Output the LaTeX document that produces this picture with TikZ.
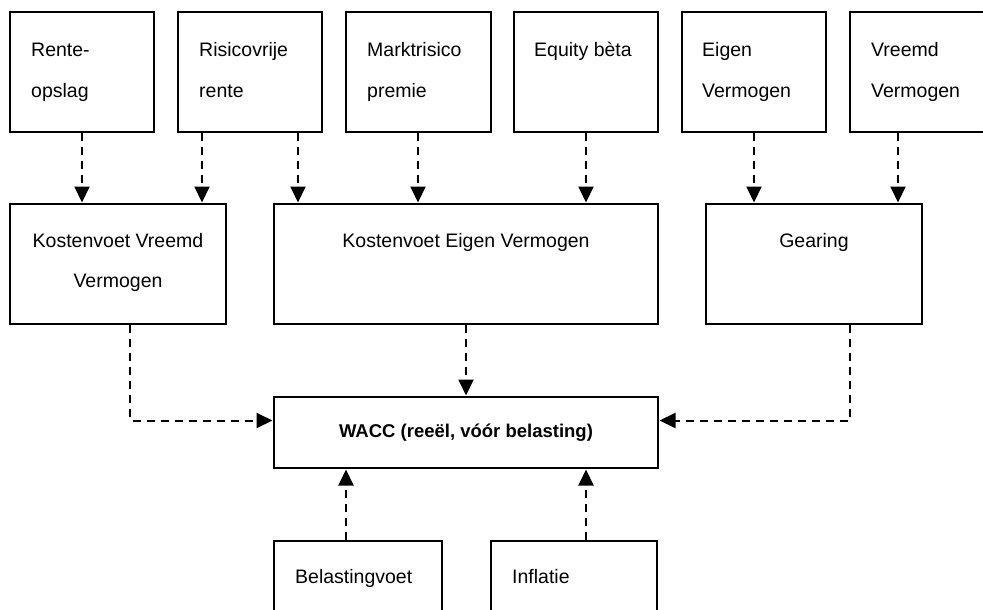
\documentclass[tikz,border=0pt]{standalone}
\usepackage{fontspec}
\setmainfont{Liberation Sans}
\usetikzlibrary{arrows.meta}
\begin{document}
\begin{tikzpicture}[x=1pt,y=-1pt,
  box/.style={draw, line width=2pt, inner sep=0pt, minimum height=120pt},
  lbl/.style={font=\fontsize{19.5}{40}\selectfont, inner sep=0pt, align=left, anchor=base west},
  clbl/.style={font=\fontsize{19.5}{40}\selectfont, inner sep=0pt, align=center, anchor=base},
  conn/.style={line width=2pt, dash pattern=on 8pt off 6pt, -{Triangle[width=15pt,length=16pt]}, shorten >=0.5pt}
]
\useasboundingbox (0,0) rectangle (983,610);
\clip (0,0) rectangle (983,610);
% top row
\node[box, minimum width=144pt] (b1) at (82,72) {};
\node[box, minimum width=144pt] (b2) at (250,72) {};
\node[box, minimum width=145pt] (b3) at (418,72) {};
\node[box, minimum width=144pt] (b4) at (586,72) {};
\node[box, minimum width=144pt] (b5) at (754,72) {};
\node[box, minimum width=144pt] (b6) at (922,72) {};
\node[lbl] (t1) at (31,97) {Rente-\\opslag};
\node[lbl] (t2) at (199,97) {Risicovrije\\rente};
\node[lbl] (t3) at (367,97) {Marktrisico\\premie};
\node[lbl] (t4) at (534,57) {Equity bèta};
\node[lbl] (t5) at (702,97) {Eigen\\Vermogen};
\node[lbl] (t6) at (871,97) {Vreemd\\Vermogen};
% middle row
\node[box, minimum width=216pt] (kvv) at (118,264) {};
\node[box, minimum width=384pt] (kev) at (466,264) {};
\node[box, minimum width=216pt] (gear) at (814,264) {};
\node[clbl] (tk1) at (118,287) {Kostenvoet Vreemd\\Vermogen};
\node[clbl] (tk2) at (466,247) {Kostenvoet Eigen Vermogen};
\node[clbl] (tk3) at (814,247) {Gearing};
% WACC
\node[box, minimum width=384pt, minimum height=71pt, font=\fontsize{18.5}{22}\selectfont\bfseries] (wacc) at (466,432.5) {WACC (reeël, vóór belasting)};
% bottom row
\node[box, minimum width=168pt] (bel) at (358,601) {};
\node[box, minimum width=166pt] (inf) at (574,601) {};
\node[lbl] (tb1) at (295,583) {Belastingvoet};
\node[lbl] (tb2) at (512,583) {Inflatie};
% connectors
\draw[conn] (b1.south) -- ([xshift=-36pt]kvv.north);
\draw[conn] ([xshift=-48pt]b2.south) -- ([xshift=84pt]kvv.north);
\draw[conn] ([xshift=48pt]b2.south) -- ([xshift=-168pt]kev.north);
\draw[conn] (b3.south) -- ([xshift=-48pt]kev.north);
\draw[conn] (b4.south) -- ([xshift=120pt]kev.north);
\draw[conn] (b5.south) -- ([xshift=-60pt]gear.north);
\draw[conn] ([xshift=-24pt]b6.south) -- ([xshift=84pt]gear.north);
\draw[conn] ([xshift=12pt]kvv.south) |- ([yshift=12pt]wacc.west);
\draw[conn] (kev.south) -- (wacc.north);
\draw[conn] ([xshift=36pt]gear.south) |- ([yshift=12pt]wacc.east);
\draw[conn] ([xshift=-12pt]bel.north) -- ([xshift=-120pt]wacc.south);
\draw[conn] ([xshift=12pt]inf.north) -- ([xshift=120pt]wacc.south);
\end{tikzpicture}
\end{document}
